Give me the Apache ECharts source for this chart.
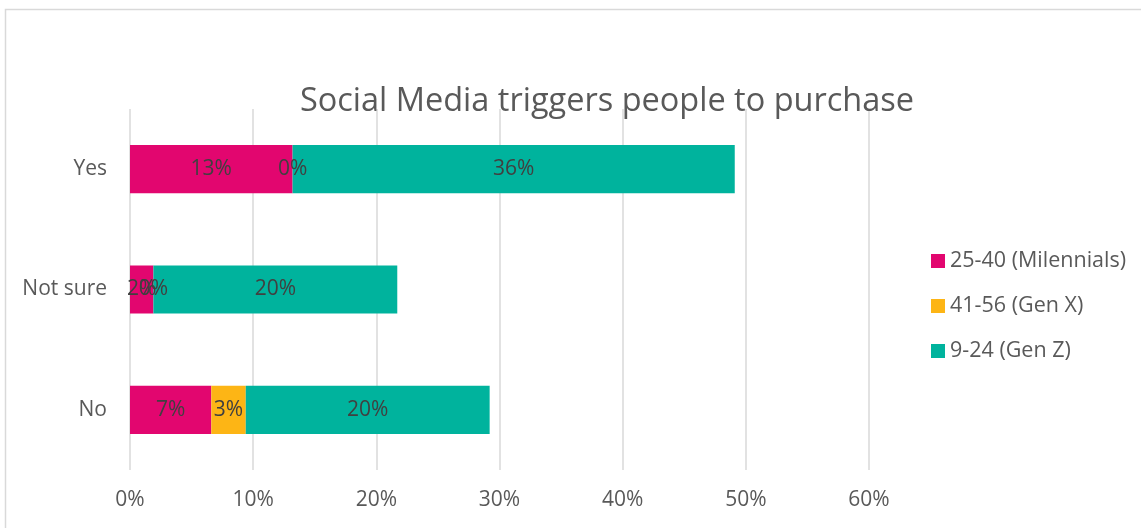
<!DOCTYPE html>
<html>
<head>
<meta charset="utf-8">
<style>
  html, body { margin: 0; padding: 0; background: #ffffff; }
  #chart { width: 1141px; height: 528px; }
</style>
<script src="https://cdn.jsdelivr.net/npm/echarts@6/dist/echarts.min.js"></script>
</head>
<body>
<div id="chart"></div>
<script>
// Answers, listed bottom to top on the category axis
const categories = ['No', 'Not sure', 'Yes'];

// Share of respondents (%) per age group
const seriesNames = ['25-40 (Milennials)', '41-56 (Gen X)', '9-24 (Gen Z)'];
const millennials = [6.6, 1.9, 13.2];
const genX = [2.8, 0, 0];
const genZ = [19.8, 19.8, 35.9];

const colors = ['#E2066F', '#FDB515', '#00B39D'];
const FONT = '"Open Sans", sans-serif';
const TEXT = '#595959';

const chart = echarts.init(document.getElementById('chart'), null, { renderer: 'canvas' });

function barSeries(name, data, color) {
  return {
    name: name,
    type: 'bar',
    stack: 'total',
    barWidth: '40%',
    data: data,
    itemStyle: { color: color },
    label: {
      show: true,
      position: 'inside',
      color: '#404040',
      fontFamily: FONT,
      fontSize: 21,
      formatter: p => Math.round(p.value) + '%'
    },
    emphasis: { disabled: true }
  };
}

chart.setOption({
  animation: false,
  backgroundColor: '#ffffff',
  title: {
    text: 'Social Media triggers people to purchase',
    left: 602,
    top: 80,
    textAlign: 'center',
    textStyle: { color: TEXT, fontFamily: FONT, fontSize: 32.5, fontWeight: 'normal' }
  },
  graphic: [{
    type: 'rect',
    shape: { x: 5.5, y: 9.5, width: 1200, height: 600 },
    style: { fill: 'none', stroke: '#d9d9d9', lineWidth: 1.5 },
    silent: true,
    z: -1
  }],
  legend: {
    orient: 'vertical',
    left: 931,
    top: 250,
    padding: 0,
    icon: 'rect',
    itemWidth: 14,
    itemHeight: 14,
    itemGap: 23,
    textStyle: { color: TEXT, fontFamily: FONT, fontSize: 21.5, lineHeight: 22 },
    data: seriesNames
  },
  grid: { left: 130, right: 1141 - 869, top: 109, bottom: 528 - 470, containLabel: false },
  xAxis: {
    type: 'value',
    min: 0,
    max: 60,
    interval: 10,
    axisLine: { show: false },
    axisTick: { show: false },
    axisLabel: { color: TEXT, fontFamily: FONT, fontSize: 21, margin: 20, formatter: '{value}%' },
    splitLine: { lineStyle: { color: '#d9d9d9', width: 1.5 } }
  },
  yAxis: {
    type: 'category',
    data: categories,
    axisLine: { show: false },
    axisTick: { show: false },
    axisLabel: { color: TEXT, fontFamily: FONT, fontSize: 21, margin: 23 }
  },
  series: [
    barSeries(seriesNames[0], millennials, colors[0]),
    barSeries(seriesNames[1], genX, colors[1]),
    barSeries(seriesNames[2], genZ, colors[2])
  ]
});
</script>
</body>
</html>
